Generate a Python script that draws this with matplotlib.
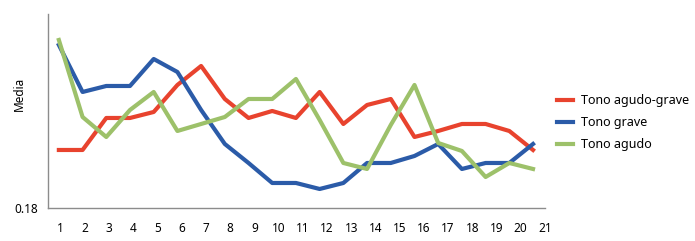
import numpy as np
import matplotlib.pyplot as plt

# valores
puntos = list(range(1, 22))
etiquetas_x = [str(i) for i in range(1, 22)]
agudo_grave = [0.209, 0.209, 0.225, 0.225, 0.228, 0.2415, 0.251, 0.2345, 0.225, 0.2285, 0.225,
               0.238, 0.222, 0.2315, 0.2345, 0.2155, 0.2185, 0.222, 0.222, 0.2185, 0.209]
grave = [0.2615, 0.238, 0.241, 0.241, 0.2545, 0.248, 0.229, 0.212, 0.2025, 0.1925, 0.1925,
         0.1895, 0.1925, 0.2025, 0.2025, 0.206, 0.212, 0.1995, 0.2025, 0.2025, 0.212]
agudo = [0.264, 0.2255, 0.2155, 0.229, 0.238, 0.2185, 0.222, 0.2255, 0.2345, 0.2345, 0.2445,
         0.224, 0.2025, 0.1995, 0.2215, 0.2415, 0.2125, 0.2085, 0.1955, 0.2025, 0.1995]

plt.rcParams['font.family'] = ['Noto Sans', 'DejaVu Sans']

fig = plt.figure(figsize=(6.95, 2.41), dpi=100)
ax = fig.add_axes([0.069, 0.137, 0.715, 0.805])

ax.plot(puntos, agudo_grave, color='#E8432E', lw=3, label='Tono agudo-grave')
ax.plot(puntos, grave, color='#2B5BA8', lw=3, label='Tono grave')
ax.plot(puntos, agudo, color='#9DC16A', lw=3, label='Tono agudo')

ax.set_xlim(0.54, 21.5)
ax.set_ylim(0.18, 0.277)
ax.set_xticks(np.linspace(1.08, 21.5, 21))
ax.set_xticklabels(etiquetas_x, fontsize=8.5)
ax.set_yticks([0.18])
ax.set_yticklabels(['0.18'], fontsize=8.5)
ax.tick_params(axis='x', length=0, pad=10)
ax.tick_params(axis='y', length=0, pad=7)
ax.set_ylabel('Media', fontsize=8.5)
ax.yaxis.set_label_coords(-0.045, 0.59)

for s in ['top', 'right']:
    ax.spines[s].set_visible(False)
for s in ['left', 'bottom']:
    ax.spines[s].set_color('#8c8c8c')
    ax.spines[s].set_linewidth(1)

fig.legend(loc='upper left', bbox_to_anchor=(0.785, 0.655), frameon=False,
           fontsize=9, handlelength=1.3, handletextpad=0.6, labelspacing=0.7)

fig.savefig('out.png', dpi=100)
